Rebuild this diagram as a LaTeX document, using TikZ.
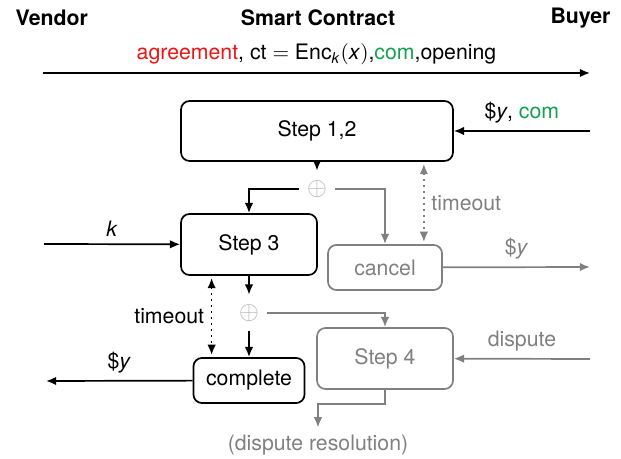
\documentclass[tikz,border=0pt]{standalone}
\usepackage{fontspec}
\setmainfont{TeX Gyre Heros}
\usepackage{xcolor}
\usetikzlibrary{
		calc,
		positioning,
		arrows.meta
	}
\tikzset{
		>={Latex[length=4.8pt, width=4pt]}
	}
\definecolor{agrred}{RGB}{235,20,20}
\definecolor{comgreen}{RGB}{20,160,80}

\begin{document}
\begin{tikzpicture}[x=0.47pt, y=-0.47pt,
					party/.style={font=\bfseries},
					stepbox/.style={draw, thick, rounded corners=4pt, align=center},
					inactive/.style={gray},
					xor/.style={circle, inner sep=1.6pt, text=gray!60, font=\large},
					msg/.style={thick, ->},
					tmo/.style={thick, dotted, <->, shorten <=1pt, shorten >=1pt}]
		\useasboundingbox (0,0) rectangle (621,459);

		% parties
		\node[party, anchor=west] (vendor) at (8,18) {Vendor};
		\node[party] (contract) at (318,18) {Smart Contract};
		\node[party, anchor=east] (buyer) at (618,18) {Buyer};

		% contract states
		\node[stepbox, minimum width=127.8pt, minimum height=28.2pt] (step12) at (317,131) {Step 1,2};
		\node[stepbox, minimum width=63.9pt, minimum height=28.7pt] (step3) at (249,244.5) {Step 3};
		\node[stepbox, inactive, minimum width=53.6pt, minimum height=21.2pt] (cancel) at (385,267.5) {cancel};
		\node[stepbox, inactive, minimum width=63.9pt, minimum height=28.7pt] (step4) at (385,358.5) {Step 4};
		\node[stepbox, minimum width=52.2pt, minimum height=21.2pt] (complete) at (249,380.5) {complete};
		\node[xor] (xor1) at (317,189) {$\oplus$};
		\node[xor] (xor2) at (249,313) {$\oplus$};
		\node[inactive] (resolution) at (318,445) {(dispute resolution)};

		% outer ends of the messages
		\coordinate (vtop) at (43,73);
		\coordinate (btop) at (590,73);
		\coordinate (bpay) at (590,131);
		\coordinate (bref) at (590,267);
		\coordinate (bdis) at (590,359);
		\coordinate (vkey) at (44,244);
		\coordinate (vpay) at (46,381);

		\draw[msg] (vtop) -- node[above] {{\color{agrred}agreement}, ct $=$ Enc\textsubscript{\textit{k}}$($\textit{x}$)$,{\color{comgreen}com},opening} (btop);
		\draw[msg] (bpay) -- node[above] {\$\textit{y}, {\color{comgreen}com}} (step12);
		\draw[msg] (step12) -- (xor1);
		\draw[msg] (xor1) -| (step3);
		\draw[msg, inactive] (xor1) -| (cancel);

		\coordinate (tcancel) at ($(cancel.north east)+(-19,0)$);
		\draw[tmo, inactive] (tcancel |- step12.south) -- (tcancel);
		\node[inactive, right] (tmocancel) at ($(tcancel)!0.5!(tcancel |- step12.south)$) {timeout};
		\draw[msg, inactive] (cancel) -- node[above] {\$\textit{y}} (bref);

		\draw[msg] (vkey) -- node[above] {\textit{k}} (step3);
		\draw[msg] (step3) -- (xor2);
		\draw[msg] (xor2) -- (complete);
		\coordinate (tcomplete) at ($(complete.north west)+(19,0)$);
		\draw[tmo] (tcomplete |- step3.south) -- (tcomplete);
		\node[left] (tmocomplete) at ($(tcomplete)!0.5!(tcomplete |- step3.south)$) {timeout};
		\draw[msg] (complete) -- node[above] {\$\textit{y}} (vpay);

		\draw[msg, inactive] (xor2) -| (step4);
		\draw[msg, inactive] (bdis) -- node[above] {dispute} (step4);
		\draw[msg, inactive] (step4.south) -- ++(0,14) -| (resolution);
	\end{tikzpicture}
\end{document}
